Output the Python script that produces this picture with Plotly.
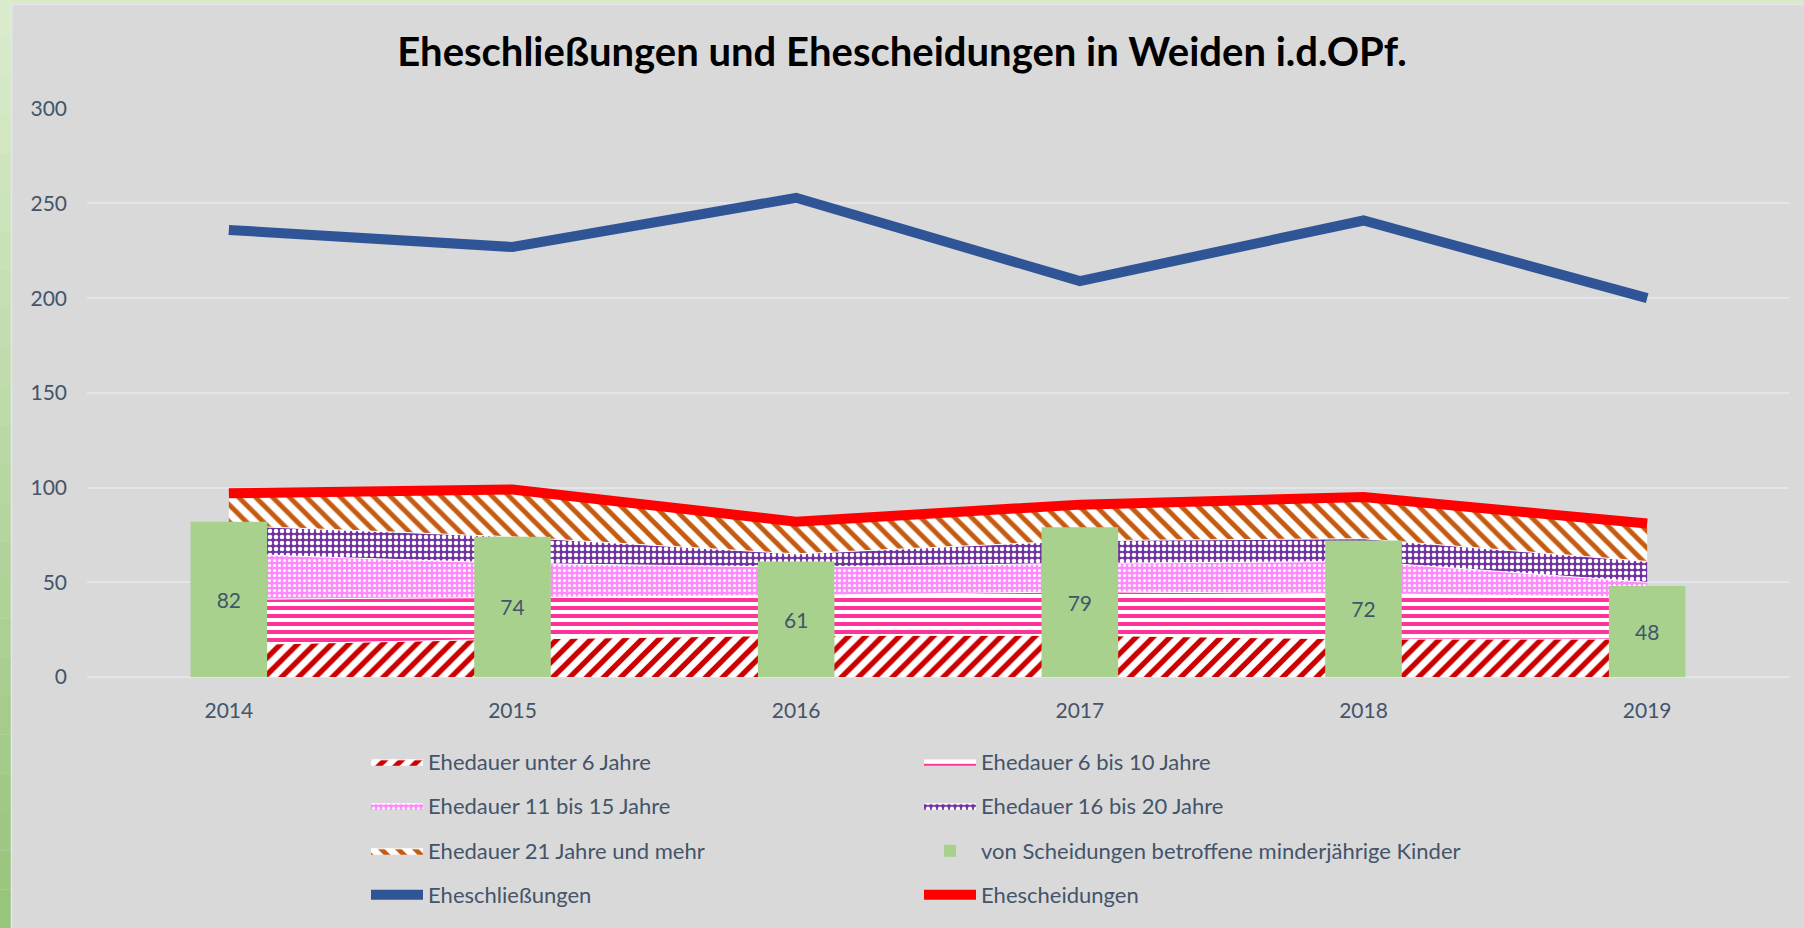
import plotly.graph_objects as go

years = ["2014", "2015", "2016", "2017", "2018", "2019"]
dauer_unter6 = [17, 20, 22, 22, 20, 20]
dauer_6_10 = [24, 22, 21, 23, 24, 22]
dauer_11_15 = [24, 18, 15, 15, 17, 8]
dauer_16_20 = [15, 14, 7, 12, 12, 11]
dauer_21plus = [17, 25, 17, 19, 22, 20]
kinder = [82, 74, 61, 79, 72, 48]
eheschliessungen = [236, 227, 253, 209, 241, 200]
ehescheidungen = [97, 99, 82, 91, 95, 81]

TXT = "#44546a"
FONT = "Lato"

W, H = 1804, 928
ML, MR, MT, MB = 87, 15, 108, 251
PW = W - ML - MR
PH = H - MT - MB


def px_x(px):
    return (px - ML) / PW


def px_y(py):
    return (H - MB - py) / PH


fig = go.Figure()

areas = [
    ("Ehedauer unter 6 Jahre", dauer_unter6, "/", "#cc0000", "white", 12, 0.45, "legend"),
    ("Ehedauer 6 bis 10 Jahre", dauer_6_10, "-", "#ff3399", "white", 8, 0.5, "legend"),
    ("Ehedauer 11 bis 15 Jahre", dauer_11_15, ".", "#ffffff", "#ff88ff", 5, 0.3, "legend2"),
    ("Ehedauer 16 bis 20 Jahre", dauer_16_20, ".", "#ffffff", "#7030a0", 6, 0.45, "legend2"),
    ("Ehedauer 21 Jahre und mehr", dauer_21plus, "\\", "#c55a11", "white", 12, 0.4, "legend3"),
]
for name, vals, shape, fg, bg, size, sol, lg in areas:
    fig.add_trace(go.Scatter(
        x=years, y=vals, name=name, stackgroup="ehedauer", mode="lines",
        line=dict(width=1, color="white"),
        fillpattern=dict(shape=shape, fgcolor=fg, bgcolor=bg, size=size,
                         solidity=sol, fillmode="replace"),
        fillcolor=bg, legend=lg, xaxis="x", yaxis="y",
    ))

fig.add_trace(go.Bar(
    x=years, y=kinder, name="von Scheidungen betroffene minderjährige Kinder",
    marker=dict(color="#a9d18e", line=dict(width=0)), width=0.27,
    text=kinder, texttemplate="%{y}", textposition="inside",
    insidetextanchor="middle", textangle=0,
    textfont=dict(family=FONT, size=21, color=TXT),
    legend="legend3", xaxis="x2", yaxis="y2",
))

fig.add_trace(go.Scatter(
    x=years, y=eheschliessungen, name="Eheschließungen", mode="lines",
    line=dict(color="#2f5597", width=10), legend="legend4",
    xaxis="x2", yaxis="y2",
))
fig.add_trace(go.Scatter(
    x=years, y=ehescheidungen, name="Ehescheidungen", mode="lines",
    line=dict(color="#ff0000", width=10), legend="legend4",
    xaxis="x2", yaxis="y2",
))

# decorative green frame
shapes = [dict(type="rect", xref="paper", yref="paper",
               x0=px_x(0), x1=px_x(W), y0=px_y(0), y1=px_y(4),
               fillcolor="#d8eac9", line=dict(width=0), layer="above")]
top_rgb = (0xd9, 0xeb, 0xcb)
bot_rgb = (0x98, 0xc4, 0x7c)
n = 24
for i in range(n):
    t = i / (n - 1)
    c = tuple(int(round(a + (b - a) * t)) for a, b in zip(top_rgb, bot_rgb))
    y0 = i * H / n
    y1 = (i + 1) * H / n
    shapes.append(dict(type="rect", xref="paper", yref="paper",
                       x0=px_x(0), x1=px_x(11), y0=px_y(y0), y1=px_y(y1),
                       fillcolor="rgb(%d,%d,%d)" % c, line=dict(width=0), layer="above"))
shapes.append(dict(type="line", xref="paper", yref="paper",
                   x0=px_x(11.5), x1=px_x(11.5), y0=px_y(4), y1=px_y(H),
                   line=dict(color="#e3e7ec", width=1.5), layer="above"))
shapes.append(dict(type="line", xref="paper", yref="paper",
                   x0=px_x(11), x1=px_x(W), y0=px_y(4.5), y1=px_y(4.5),
                   line=dict(color="#e3e7ec", width=1.5), layer="above"))

legend_common = dict(orientation="h", xanchor="left", yanchor="middle",
                     font=dict(family=FONT, size=22, color=TXT),
                     bgcolor="rgba(0,0,0,0)", entrywidth=486, itemwidth=52,
                     traceorder="normal")
lx = px_x(366)

fig.update_layout(
    width=W, height=H,
    margin=dict(l=ML, r=MR, t=MT, b=MB),
    paper_bgcolor="#d9d9d9", plot_bgcolor="#d9d9d9",
    font=dict(family=FONT, color=TXT, size=21),
    title=dict(text="<b>Eheschließungen und Ehescheidungen in Weiden i.d.OPf.</b>",
               x=0.5, xref="container", xanchor="center",
               y=1 - 52 / H, yref="container", yanchor="middle",
               font=dict(family=FONT, size=40, color="#000000")),
    xaxis=dict(type="category", range=[-0.5, 5.5], showgrid=False,
               zeroline=False, showline=False, ticks="",
               tickfont=dict(family=FONT, size=21, color=TXT),
               ticklabelstandoff=19),
    yaxis=dict(range=[0, 300.4], tickvals=[0, 50, 100, 150, 200, 250, 300],
               showgrid=True, gridcolor="#e2e5ea", gridwidth=1.5,
               zeroline=True, zerolinecolor="#e2e5ea", zerolinewidth=1.5,
               showline=False, ticks="",
               tickfont=dict(family=FONT, size=21, color=TXT),
               ticklabelstandoff=19),
    xaxis2=dict(type="category", overlaying="x", matches="x", visible=False,
                range=[-0.5, 5.5]),
    yaxis2=dict(overlaying="y", matches="y", visible=False, range=[0, 300.4]),
    legend=dict(**legend_common, x=lx, y=px_y(762)),
    legend2=dict(**legend_common, x=lx, y=px_y(806)),
    legend3=dict(**legend_common, x=lx, y=px_y(851)),
    legend4=dict(**legend_common, x=lx, y=px_y(895)),
    shapes=shapes,
    showlegend=True,
)

fig.write_html(
    "out.html",
    config={"displayModeBar": False},
    post_script="document.body.style.margin='0';document.body.style.overflow='hidden';",
)
